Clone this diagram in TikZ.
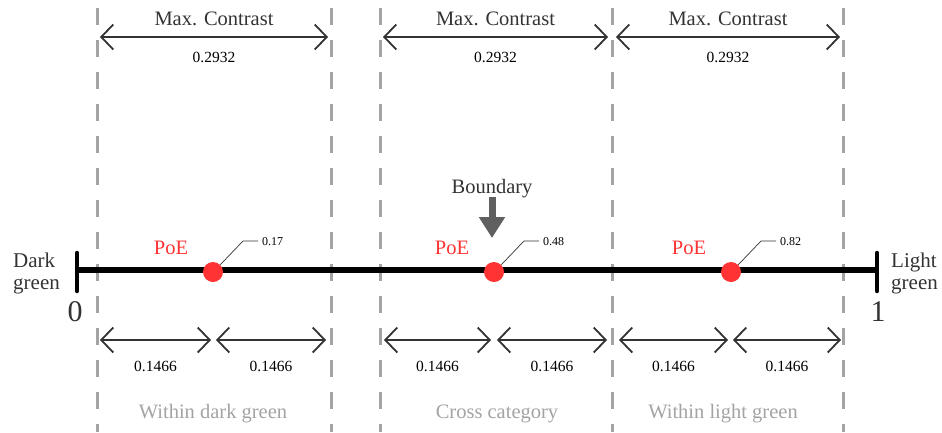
\documentclass[tikz,border=0pt]{standalone}
\usepackage{fontspec}
\setmainfont{Liberation Serif}
\usetikzlibrary{arrows.meta}
\definecolor{poe}{HTML}{FF3333}
\definecolor{dashgray}{HTML}{A3A3A3}
\definecolor{txtdark}{HTML}{333333}
\definecolor{bndgray}{HTML}{606060}
\tikzset{
  sep/.style={draw=dashgray, line width=3pt, dash pattern=on 17pt off 15pt, dash phase=-8pt},
  dimarrow/.style={draw=txtdark, line width=1.8pt, {Straight Barb[length=12pt,width=25pt,line width=1.8pt]}-{Straight Barb[length=12pt,width=25pt,line width=1.8pt]}},
  bigtxt/.style={font=\fontsize{20.5}{24}\selectfont, text=txtdark, inner sep=0pt},
  numtxt/.style={font=\fontsize{15.5}{18}\selectfont, text=black, inner sep=0pt},
  smalltxt/.style={font=\fontsize{12}{14}\selectfont, text=black, inner sep=0pt, anchor=west},
  poetxt/.style={font=\fontsize{20.5}{24}\selectfont, text=poe, inner sep=0pt},
  regtxt/.style={font=\fontsize{20.5}{24}\selectfont, text=dashgray, inner sep=0pt},
  endtxt/.style={font=\fontsize{21}{24}\selectfont, text=txtdark, inner sep=0pt, align=left},
  dot/.style={circle, fill=poe, minimum size=20pt, inner sep=0pt},
  leader/.style={draw=txtdark, line width=0.7pt},
}
\begin{document}
\begin{tikzpicture}[x=1pt,y=-1pt]
\useasboundingbox (0,0) rectangle (942,432);
% separators
\foreach \n/\x in {s1/97,s2/331,s3/380,s4/612,s5/843}{
  \coordinate (\n t) at (\x,0);
  \coordinate (\n b) at (\x,432);
  \draw[sep] (\n t) -- (\n b);
}
% main axis
\coordinate (axL) at (77,270);
\coordinate (axR) at (878,270);
\draw[line width=6pt, black] (axL) -- (axR);
\coordinate (tL1) at (77,253); \coordinate (tL2) at (77,291);
\coordinate (tR1) at (877,253); \coordinate (tR2) at (877,291);
\draw[line width=4.5pt, line cap=round] (tL1) -- (tL2);
\draw[line width=4.5pt, line cap=round] (tR1) -- (tR2);
\node[endtxt, font=\fontsize{30}{32}\selectfont] (zero) at (75,312) {0};
\node[endtxt, font=\fontsize{30}{32}\selectfont] (one) at (878,312) {1};
\node[endtxt, anchor=west] (dark) at (13,273) {Dark\\[-2pt]green};
\node[endtxt, anchor=west] (light) at (891,273) {Light\\[-2pt]green};
% PoE dots
\foreach \n/\x/\v in {a/213/0.17,b/494/0.48,c/731/0.82}{
  \node[dot] (d\n) at (\x,272) {};
  \coordinate (k\n) at (\x+30,241);
  \coordinate (e\n) at (\x+45,241);
  \draw[leader] (d\n.north east) -- (k\n) -- (e\n);
  \node[smalltxt] (v\n) at (\x+49,242) {\v};
  \node[poetxt] (p\n) at (\x-42,248) {PoE};
}
% boundary
\node[bigtxt] (bnd) at (492,189) {Boundary};
\coordinate (bA) at (492,197);
\coordinate (bB) at (492,238);
\draw[bndgray, line width=7pt, -{Triangle[length=21pt,width=25pt]}] (bA) -- (bB);
% top arrows
\foreach \n/\a/\b in {t1/100/328,t2/383/608,t3/616/840}{
  \coordinate (\n a) at (\a,37);
  \coordinate (\n b) at (\b,37);
  \draw[dimarrow] (\n a) -- (\n b);
  \node[bigtxt] (\n m) at ({(\a+\b)/2},19) {Max. Contrast};
  \node[numtxt] (\n v) at ({(\a+\b)/2},57) {0.2932};
}
% bottom arrows
\foreach \n/\a/\b in {b1/100/211,b2/216/326,b3/384/491,b4/497/607,b5/619/728,b6/733/841}{
  \coordinate (\n a) at (\a,340);
  \coordinate (\n b) at (\b,340);
  \draw[dimarrow] (\n a) -- (\n b);
  \node[numtxt] (\n v) at ({(\a+\b)/2},366) {0.1466};
}
% region labels
\node[regtxt] (r1) at (213,414) {Within dark green};
\node[regtxt] (r2) at (497,414) {Cross category};
\node[regtxt] (r3) at (723,414) {Within light green};
\end{tikzpicture}
\end{document}
